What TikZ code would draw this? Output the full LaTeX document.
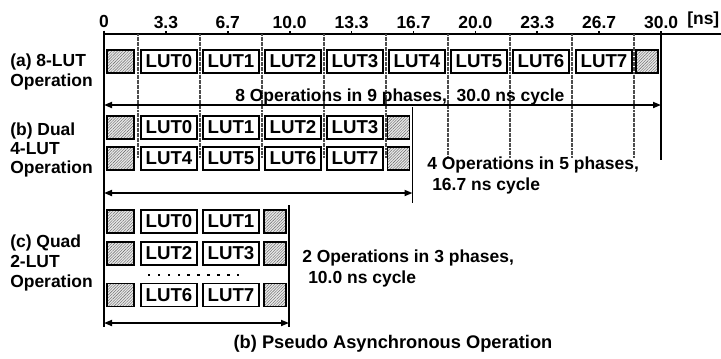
\documentclass[tikz,border=0pt]{standalone}
\usepackage{fontspec}
\setmainfont{Liberation Sans}
\usetikzlibrary{patterns.meta,arrows.meta}
\begin{document}
\begin{tikzpicture}[x=0.75pt,y=-0.75pt,
  font=\fontsize{13.1}{15}\selectfont\bfseries,
  lut/.style={draw, line width=1.4pt, fill=white, inner sep=0pt,
    minimum width=42pt, minimum height=17.25pt, font=\fontsize{14}{15}\selectfont\bfseries},
  gry/.style={draw, line width=1.2pt, inner sep=0pt, minimum height=17.25pt,
    preaction={fill=gray!18},
    pattern={Lines[angle=45,distance=1.5pt,line width=0.3pt]}, pattern color=gray!75!black},
  gl/.style={gry, minimum width=20.25pt},
  gr/.style={gry, minimum width=16.5pt},
  phase/.style={line width=1.1pt, black!70, dash pattern=on 1.5pt off 0.4pt},
  solid line/.style={line width=1.1pt},
  dim/.style={line width=1.3pt, {Triangle[length=6pt,width=4.5pt]}-{Triangle[length=6pt,width=4.5pt]}},
  lbl/.style={anchor=base west, inner sep=0pt},
]
\useasboundingbox (0,0) rectangle (721,358);

% ---- time axis ----
\coordinate (ax0) at (104,34);
\coordinate (axend) at (721,34);
\draw[line width=1.5pt] (ax0) -- (axend);
\foreach \k/\t in {1/3.3,2/6.7,3/10.0,4/13.3,5/16.7,6/20.0,7/23.3,8/26.7,9/30.0} {
  \coordinate (t\k) at ({104+61.9*\k},34);
  \draw[line width=1.3pt] (t\k) -- ++(0,-3.5);
  \node[anchor=base, inner sep=0pt] (tl\k) at ({104+61.9*\k},28) {\t};
}
\node[anchor=base, inner sep=0pt] (tl0) at (104,27) {0};
\node[anchor=base west, inner sep=0pt] (ns) at (687,24) {[ns]};

% ---- phase lines ----
\foreach \k in {0,...,8} {
  \coordinate (p\k) at ({138+62*\k},34);
  \draw[phase] (p\k) -- ({138+62*\k},158);
}
% solid frame lines
\coordinate (z0) at (104,30.5);
\coordinate (z1) at (104,327);
\draw[solid line] (z0) -- (z1);
\coordinate (e30) at (661,34);
\coordinate (e30b) at (661,160);
\draw[solid line] (e30) -- (e30b);
\coordinate (e16) at (412.5,107);
\coordinate (e16b) at (412.5,203);
\draw[solid line] (e16) -- (e16b);
\coordinate (e10) at (289,205);
\coordinate (e10b) at (289,327);
\draw[solid line] (e10) -- (e10b);

% ---- (a) 8-LUT ----
\node[gl] (ag0) at (120.5,61.5) {};
\foreach \k in {0,...,6} {
  \node[lut] (a\k) at ({169+62*\k},61.5) {LUT\k};
}
\node[lut] (a7) at (604,61.5) {LUT7};
\node[gr] (ag1) at (647,61.5) {};
\coordinate (aa0) at (104,105);
\coordinate (aa1) at (661,105);
\draw[dim] (aa0) -- (aa1);
\node[lbl] (atext) at (235,101) {8 Operations in 9 phases,\ \ 30.0 ns cycle};
\node[lbl] (al1) at (10,66) {(a) 8-LUT};
\node[lbl] (al2) at (10,86) {Operation};

% ---- (b) Dual 4-LUT ----
\node[gl] (bg0) at (120.5,127.5) {};
\node[gl] (bg1) at (120.5,158.5) {};
\foreach \k in {0,...,3} {
  \pgfmathtruncatemacro\kk{\k+4}
  \node[lut] (b\k) at ({169+62*\k},127.5) {LUT\k};
  \node[lut] (b\kk) at ({169+62*\k},158.5) {LUT\kk};
}
\node[gr] (bg2) at (398.5,127.5) {};
\node[gr] (bg3) at (398.5,158.5) {};
\coordinate (ba0) at (104,193);
\coordinate (ba1) at (412.5,193);
\draw[dim] (ba0) -- (ba1);
\node[lbl] (btext1) at (427,169) {4 Operations in 5 phases,};
\node[lbl] (btext2) at (432,190) {16.7 ns cycle};
\node[lbl] (bl1) at (10,135) {(b) Dual};
\node[lbl] (bl2) at (10,154) {4-LUT};
\node[lbl] (bl3) at (10,173) {Operation};

% ---- (c) Quad 2-LUT ----
\foreach \r/\y/\i/\j in {0/221.5/0/1, 1/253.5/2/3, 2/295/6/7} {
  \node[gl] (cgl\r) at (120.5,\y) {};
  \node[lut] (c\i) at (169,\y) {LUT\i};
  \node[lut] (c\j) at (231,\y) {LUT\j};
  \node[gr] (cgr\r) at (275,\y) {};
}
\foreach \k in {0,...,9} {
  \fill ({149+9.9*\k-1.2},273.8) rectangle ++(2.5,2.5);
}
\coordinate (ca0) at (104,323);
\coordinate (ca1) at (289,323);
\draw[dim] (ca0) -- (ca1);
\node[lbl] (ctext1) at (302,262) {2 Operations in 3 phases,};
\node[lbl] (ctext2) at (308,283) {10.0 ns cycle};
\node[lbl] (cl1) at (10,247) {(c) Quad};
\node[lbl] (cl2) at (10,267) {2-LUT};
\node[lbl] (cl3) at (10,287) {Operation};

% ---- title ----
\node[anchor=base, inner sep=0pt, font=\fontsize{13.7}{16}\selectfont\bfseries] (title) at (393,348) {(b) Pseudo Asynchronous Operation};
\end{tikzpicture}
\end{document}
